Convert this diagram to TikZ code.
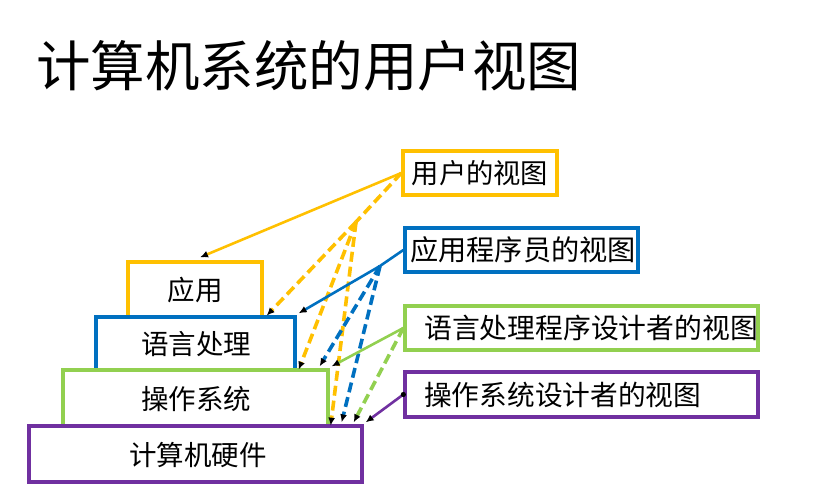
\documentclass[tikz,border=0pt]{standalone}
\usepackage{fontspec}
\setmainfont{Noto Sans CJK SC}
\usetikzlibrary{arrows.meta,fit,calc}
\definecolor{cy}{HTML}{FFC000}
\definecolor{cb}{HTML}{0070C0}
\definecolor{cg}{HTML}{92D050}
\definecolor{cp}{HTML}{7030A0}
\begin{document}
\begin{tikzpicture}[x=1pt,y=-1pt,
  box/.style={draw=#1, line width=3.3pt, inner sep=0pt},
  lbl/.style={inner sep=0pt, font=\fontsize{27.5}{30}\selectfont},
  rlbl/.style={inner sep=0pt, font=\fontsize{#1}{30}\selectfont},
  tip/.style={-{Latex[length=8pt,width=7pt,black]}},
  sline/.style={line width=2.6pt, draw=#1},
  dline/.style={line width=3.6pt, draw=#1, dash pattern=on 10pt off 5pt},
]
\useasboundingbox (0,0) rectangle (816,500);
% title
\node[anchor=west, inner sep=0pt, font=\fontsize{54.5}{60}\selectfont] (title) at (36,66) {计算机系统的用户视图};
% left stack
\node[box=cy, fit={(128,262) (262,317)}] (A) {};
\node[box=cb, fit={(96,317) (295,370)}] (L) {};
\node[box=cg, fit={(63,370) (328,426)}] (O) {};
\node[box=cp, fit={(29,426) (362,482)}] (H) {};
\node[lbl] (tA) at (195,290) {应用};
\node[lbl] (tL) at (196,344) {语言处理};
\node[lbl] (tO) at (196,399) {操作系统};
\node[lbl] (tH) at (198,455) {计算机硬件};
% right boxes
\node[box=cy, fit={(403,151) (557,195)}] (U) {};
\node[box=cb, fit={(405,228) (638,272)}] (P) {};
\node[box=cg, fit={(405,306) (758,350)}] (D) {};
\node[box=cp, fit={(405,372) (758,417)}] (S) {};
\node[rlbl=27.3] (tU) at (480,173) {用户的视图};
\node[rlbl=28.2] (tP) at (523,250) {应用程序员的视图};
\node[rlbl=27.8, anchor=west] (tD) at (424,328) {语言处理程序设计者的视图};
\node[rlbl=27.7, anchor=west] (tS) at (424,394.5) {操作系统设计者的视图};
% split points and targets
\coordinate (ys) at (356,222);
\coordinate (bs) at (380,266);
\coordinate (e1) at ($(A.north)+(5,-3)$);
\coordinate (y1) at ($(A.south east)+(3,-3)$);
\coordinate (y2) at ($(L.south east)+(2,-2)$);
\coordinate (y3) at ($(O.south east)+(1,-2)$);
\coordinate (b1) at ($(L.north east)+(2,-2)$);
\coordinate (b2) at ($(O.north east)+(-10,-2)$);
\coordinate (b3) at ($(H.north east)+(-22,-2)$);
\coordinate (g1) at ($(O.north east)+(2,-2)$);
\coordinate (g2) at ($(H.north east)+(-10,-2)$);
\coordinate (p1) at ($(H.north east)+(2,-2)$);
% yellow
\draw[sline=cy, tip] (U.west) -- (e1);
\draw[dline=cy] (U.west) -- (ys);
\draw[dline=cy, tip] (ys) -- (y1);
\draw[dline=cy, tip] (ys) -- (y2);
\draw[dline=cy, tip] (ys) -- (y3);
% blue
\draw[sline=cb] (P.west) -- (bs);
\draw[sline=cb, tip] (bs) -- (b1);
\draw[dline=cb, tip] (bs) -- (b2);
\draw[dline=cb, tip] (bs) -- (b3);
% green
\draw[sline=cg, tip] (D.west) -- (g1);
\draw[dline=cg, tip] (D.west) -- (g2);
% purple
\draw[sline=cp, tip] (S.west) -- (p1);
\fill[black] (S.west) circle (2.6pt);
\end{tikzpicture}
\end{document}
